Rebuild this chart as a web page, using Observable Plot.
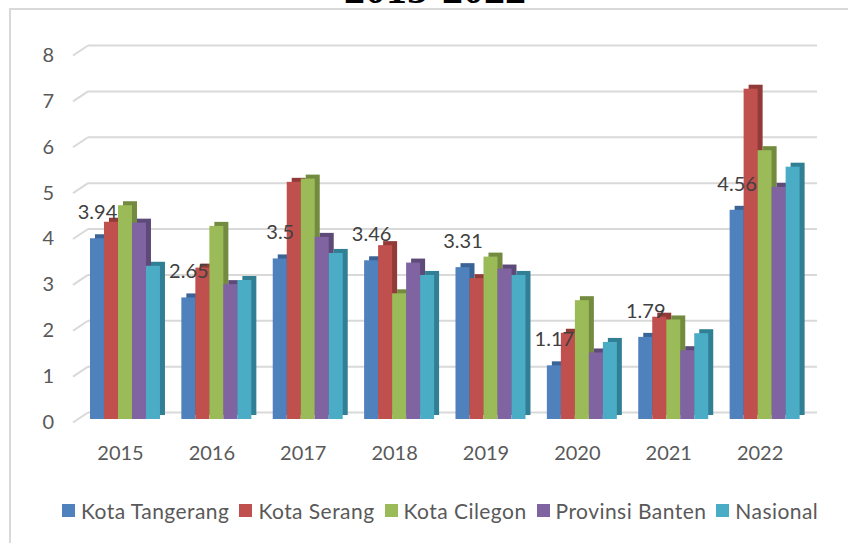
<!DOCTYPE html>
<html><head><meta charset="utf-8">
<script src="https://cdn.jsdelivr.net/npm/d3@7"></script>
<script src="https://cdn.jsdelivr.net/npm/@observablehq/plot@0.6"></script>
<style>
body{margin:0;background:#fff;}
#wrap{position:relative;width:848px;height:543px;overflow:hidden;font-family:Lato,"Open Sans",sans-serif;background:#fff;}
#frame{position:absolute;left:9px;top:8px;width:900px;height:600px;border:2px solid #d9d9d9;box-sizing:border-box;}
#title{position:absolute;left:0;width:870px;text-align:center;top:-32px;font:bold 42px "Liberation Serif",serif;color:#000;line-height:42px;}
#chart{position:absolute;left:0;top:0;}
#legend{position:absolute;left:62px;top:498px;display:flex;align-items:center;font-size:21px;letter-spacing:0.45px;color:#595959;white-space:nowrap;}
.item{display:flex;align-items:center;margin-right:10px;}
.sw{width:13px;height:13px;margin-right:6px;}
</style></head>
<body>
<div id="wrap">
  <div id="title">2015-2022</div>
  <div id="frame"></div>
  <div id="chart"></div>
  <div id="legend"></div>
</div>
<script>
const years = ["2015","2016","2017","2018","2019","2020","2021","2022"];
const seriesNames = ["Kota Tangerang","Kota Serang","Kota Cilegon","Provinsi Banten","Nasional"];
const kotaTangerang = [3.94,2.65,3.5,3.46,3.31,1.17,1.79,4.56];
const kotaSerang = [4.3,3.3,5.17,3.79,3.07,1.88,2.23,7.2];
const kotaCilegon = [4.66,4.21,5.24,2.74,3.54,2.59,2.17,5.86];
const provinsiBanten = [4.28,2.94,3.97,3.41,3.28,1.45,1.5,5.06];
const nasional = [3.34,3.03,3.62,3.14,3.14,1.68,1.87,5.5];
const yTicks = [0,1,2,3,4,5,6,7,8];
const colors = ["#4F81BD","#C0504D","#9BBB59","#8064A2","#4BACC6"];
const sideColors = ["#3A6495","#913A38","#728B3F","#5E4A79","#317F94"];

const seriesValues = [kotaTangerang,kotaSerang,kotaCilegon,provinsiBanten,nasional];
const rows = seriesValues.map((vals,i)=>years.map((year,j)=>({year, series: seriesNames[i], value: vals[j]})));

const W=848, H=470, ML=68.6, MR=27, MT=52, MB=51, PAD=0.234;
const xScale = Plot.scale({x:{type:"band", domain: years, range:[ML, W-MR], padding: PAD, round:false}});
const band = xScale.bandwidth;
const bw = band / seriesNames.length;
const n = seriesNames.length;

function grid(index, scales) {
  const g = d3.create("svg:g").attr("stroke","#d9d9d9").attr("stroke-width",2).attr("fill","none");
  for (const v of yTicks) {
    const y = scales.y(v);
    g.append("line").attr("x1",73).attr("y1",y+3.5).attr("x2",88).attr("y2",y-6.5);
    g.append("line").attr("x1",88).attr("y1",y-6.5).attr("x2",817).attr("y2",y-6.5);
  }
  return g.node();
}

const marks = [grid];
rows.forEach((r,i)=>{
  marks.push(Plot.barY(r,{x:"year", y:"value", fill: sideColors[i], insetLeft: i*bw, insetRight:(n-1-i)*bw, dx:5, dy:-4}));
});
rows.forEach((r,i)=>{
  marks.push(Plot.barY(r,{x:"year", y:"value", fill: colors[i], insetLeft: i*bw, insetRight:(n-1-i)*bw}));
});
marks.push(Plot.text(rows[0],{x:"year", y:"value", text: d=>String(d.value), dx: bw/2 - band/2, dy:-26, fontSize:20, fill:"#404040"}));
marks.push(Plot.axisY(yTicks,{tickSize:0, tickPadding:15, fontSize:20, dy:3, label:null}));
marks.push(Plot.axisX({tickSize:0, tickPadding:26, fontSize:20, dx:-5, label:null}));

const chart = Plot.plot({
  width: W, height: H,
  marginLeft: ML, marginRight: MR, marginTop: MT, marginBottom: MB,
  style: {fontFamily: "Lato, 'Open Sans', sans-serif", color: "#595959", background: "transparent"},
  x: {type:"band", domain: years, padding: PAD, round:false},
  y: {domain:[0,8]},
  marks
});
document.getElementById("chart").appendChild(chart);

const legend = document.getElementById("legend");
seriesNames.forEach((s,i)=>{
  const it = document.createElement("div"); it.className="item";
  const sw = document.createElement("div"); sw.className="sw"; sw.style.background=colors[i];
  const t = document.createElement("span"); t.textContent=s;
  it.appendChild(sw); it.appendChild(t); legend.appendChild(it);
});
</script>
</body></html>
